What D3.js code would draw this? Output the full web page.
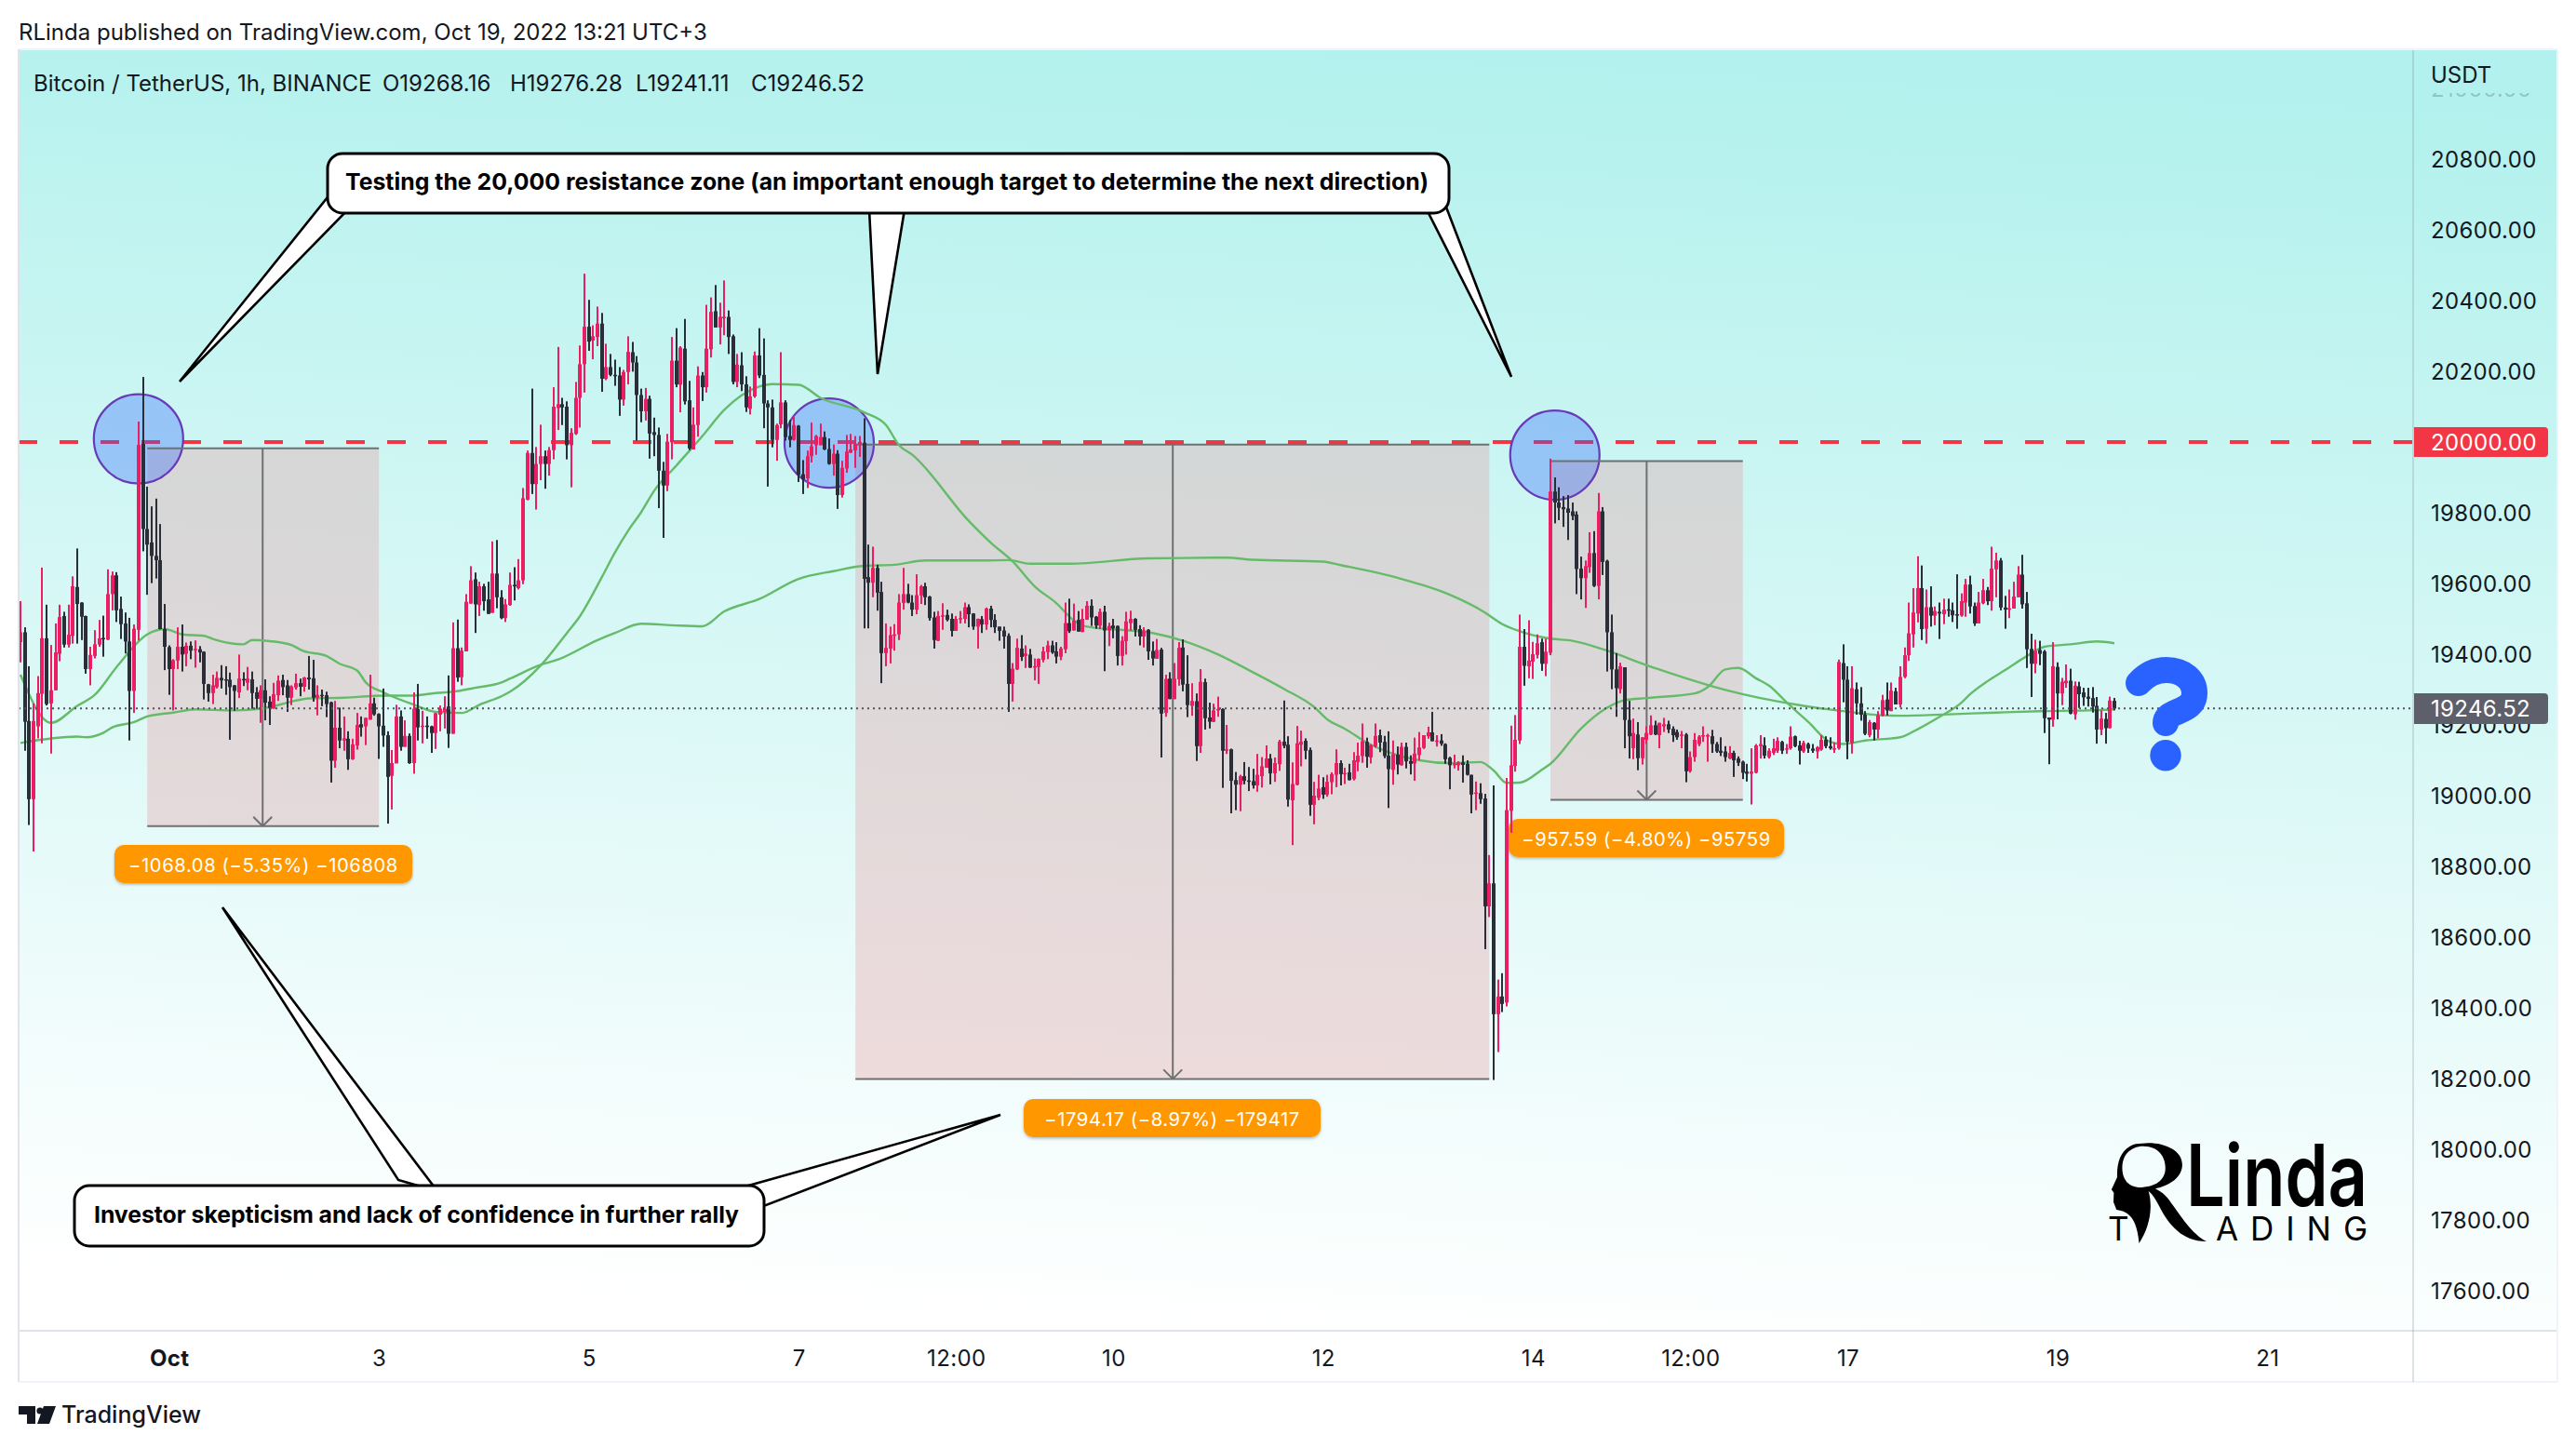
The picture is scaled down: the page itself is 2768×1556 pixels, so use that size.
<!DOCTYPE html>
<html><head><meta charset="utf-8">
<script src="https://cdn.jsdelivr.net/npm/d3@7/dist/d3.min.js"></script>
<style>html,body{margin:0;background:#fff}svg{display:block}text{font-family:Inter,"Open Sans",sans-serif}</style>
</head><body><svg id="c" width="2768" height="1556"></svg>
<script>
// open, high, low, close (USDT) of each hourly candle, one small list per stretch of the chart
const candlesSep30=[[19434,19550,19377,19462],[19462,19476,19127,19209],[19211,19366,18917,18990],[18990,19261,18842,19211],[19196,19338,19162,19290],[19288,19645,19148,19445],[19445,19540,19255,19259],[19261,19426,19119,19298],[19298,19487,19298,19405],[19401,19540,19380,19505],[19508,19520,19419,19427],[19427,19540,19419,19455],[19452,19620,19430,19592],[19590,19699,19430,19542],[19546,19547,19440,19506],[19508,19509,19345,19358],[19358,19421,19312,19398],[19395,19468,19388,19428],[19427,19497,19421,19445],[19446,19509,19393,19443],[19441,19640,19440,19570],[19570,19634,19524,19623],[19623,19632,19491,19524],[19528,19563,19443,19485],[19487,19518,19402,19436],[19436,19503,19156,19296],[19296,19484,19234,19472],[19469,20058,19439,19992],[19995,20184,19691,19754],[19754,19874,19568,19710],[19716,19818,19601,19678],[19678,19840,19614,19666],[19666,19768,19470,19471],[19471,19542,19355,19421],[19420,19425,19285,19358],[19358,19386,19241,19383],[19382,19476,19358,19421],[19421,19484,19351,19399],[19401,19433,19366,19424],[19424,19436,19386,19410],[19412,19439,19362,19415],[19414,19423,19377,19405],[19407,19408,19272,19316],[19315,19316,19266,19290],[19290,19342,19259,19312],[19307,19351,19303,19333],[19333,19369,19303,19326],[19329,19366,19285,19326]];
const candlesOct2=[[19328,19348,19158,19307],[19312,19313,19240,19296],[19292,19399,19276,19331],[19330,19349,19310,19327],[19319,19364,19298,19331],[19329,19351,19246,19290],[19292,19307,19246,19274],[19274,19312,19206,19298],[19298,19329,19213,19263],[19266,19281,19200,19248],[19246,19319,19246,19287],[19284,19340,19268,19325],[19327,19342,19284,19307],[19312,19327,19237,19277],[19277,19312,19256,19309],[19306,19345,19300,19318],[19318,19331,19281,19308],[19308,19336,19294,19334],[19334,19395,19300,19329],[19332,19384,19266,19277],[19277,19312,19227,19285],[19285,19300,19253,19283],[19284,19294,19222,19259],[19264,19266,19037,19099],[19099,19268,19079,19192],[19192,19249,19134,19156],[19156,19224,19127,19162],[19161,19182,19073,19103],[19103,19161,19101,19145],[19142,19234,19130,19200],[19202,19224,19167,19193],[19196,19221,19143,19220],[19215,19342,19215,19261],[19261,19277,19226,19230],[19231,19233,19104,19196],[19198,19303,19138,19170],[19171,19182,18921,19053],[19056,19129,18961,19092],[19091,19257,19092,19224],[19224,19241,19127,19138],[19138,19213,19138,19169],[19169,19176,19090,19092],[19092,19292,19062,19246],[19245,19316,19156,19193],[19195,19240,19148,19198],[19198,19224,19161,19194],[19196,19198,19121,19177],[19177,19234,19132,19233]];
const candlesOct4=[[19229,19255,19182,19246],[19237,19281,19190,19245],[19252,19340,19135,19175],[19175,19490,19175,19417],[19417,19498,19322,19334],[19335,19419,19312,19410],[19408,19570,19408,19548],[19543,19649,19543,19609],[19612,19631,19460,19541],[19539,19605,19508,19592],[19592,19599,19523,19550],[19555,19605,19514,19514],[19517,19719,19517,19628],[19628,19723,19530,19561],[19561,19581,19499,19502],[19502,19556,19491,19541],[19539,19631,19537,19596],[19596,19646,19552,19592],[19587,19669,19583,19609],[19609,19870,19598,19841],[19837,19976,19835,19969],[19969,20151,19853,19881],[19881,19986,19809,19938],[19938,20049,19892,19960],[19960,19976,19868,19938],[19938,19986,19905,19977],[19977,20155,19951,20100],[20096,20269,20034,20107],[20107,20125,20048,20098],[20100,20115,19951,19991],[19991,20039,19872,20026],[20023,20170,20020,20125],[20125,20273,20041,20220],[20220,20476,20140,20326],[20326,20402,20258,20284],[20287,20330,20234,20299],[20297,20383,20271,20335],[20335,20365,20142,20179],[20179,20278,20175,20212],[20212,20249,20186,20190],[20190,20233,20159,20186],[20188,20212,20074,20120],[20120,20204,20103,20198],[20198,20299,20163,20255],[20254,20283,20199,20225],[20225,20243,20004,20133],[20133,20151,20056,20087],[20087,20153,20061,20122]];
const candlesOct6=[[20122,20131,19953,20024],[20028,20069,19960,20020],[20020,20041,19813,19919],[19919,19944,19729,19877],[19877,20023,19861,20001],[19999,20297,19951,20230],[20230,20322,20155,20163],[20162,20271,20084,20267],[20264,20348,20106,20115],[20118,20173,19977,19982],[19979,20098,19979,20049],[20048,20214,20015,20188],[20188,20198,20116,20155],[20155,20388,20140,20264],[20262,20409,20239,20368],[20370,20444,20324,20324],[20324,20394,20276,20354],[20352,20457,20302,20354],[20354,20372,20249,20297],[20299,20304,20163,20170],[20170,20249,20155,20219],[20217,20254,20144,20163],[20163,20186,20085,20098],[20094,20157,20078,20129],[20129,20256,20125,20245],[20245,20322,20181,20188],[20190,20293,20039,20109],[20109,20118,19874,20098],[20098,20120,19985,20006],[20006,20052,19947,20048],[20050,20254,20039,20112],[20112,20118,20004,20014],[20017,20062,19985,20006],[20006,20071,20004,20048],[20046,20048,19887,19907],[19909,19949,19853,19894],[19897,19976,19870,19960],[19960,20055,19942,19988],[19991,20020,19964,20017],[19991,20052,19991,20014],[20014,20030,19977,19979],[19980,20010,19936,19938],[19938,19993,19905,19967],[19967,19977,19811,19850],[19850,19947,19843,19927],[19925,20020,19913,19973],[19970,20023,19969,19979],[19976,20017,19927,19995]];
const candlesOct8=[[19993,20017,19958,20000],[19998,20067,19473,19613],[19618,19710,19473,19602],[19602,19704,19561,19644],[19644,19653,19523,19574],[19576,19605,19318,19403],[19403,19487,19366,19418],[19416,19478,19374,19454],[19453,19485,19410,19456],[19456,19570,19440,19546],[19545,19644,19526,19570],[19570,19599,19544,19546],[19546,19567,19508,19526],[19526,19626,19513,19567],[19566,19596,19542,19592],[19592,19602,19539,19561],[19563,19565,19495,19502],[19504,19520,19416,19440],[19438,19522,19437,19508],[19508,19544,19469,19510],[19511,19526,19493,19497],[19500,19515,19450,19466],[19466,19508,19466,19500],[19498,19522,19487,19502],[19500,19546,19487,19533],[19533,19541,19476,19513],[19515,19516,19469,19478],[19478,19501,19416,19500],[19499,19508,19460,19484],[19484,19532,19469,19529],[19529,19537,19476,19497],[19497,19513,19460,19476],[19478,19478,19438,19466],[19467,19478,19416,19450],[19452,19459,19237,19316],[19316,19375,19266,19359],[19357,19444,19355,19418],[19416,19454,19381,19392],[19395,19425,19361,19402],[19399,19415,19361,19362],[19362,19388,19326,19366],[19364,19388,19316,19387],[19384,19421,19377,19408],[19406,19438,19386,19425],[19425,19438,19401,19405],[19408,19434,19374,19393],[19393,19421,19383,19416],[19414,19546,19403,19488]];
const candlesOct10=[[19488,19557,19460,19465],[19467,19543,19467,19495],[19497,19522,19464,19464],[19463,19528,19462,19500],[19498,19550,19497,19537],[19537,19555,19480,19504],[19506,19508,19472,19481],[19481,19529,19471,19520],[19520,19537,19352,19467],[19467,19489,19423,19480],[19481,19500,19445,19473],[19480,19481,19368,19395],[19395,19451,19368,19438],[19437,19520,19399,19493],[19488,19523,19467,19500],[19500,19502,19450,19469],[19471,19482,19425,19450],[19450,19476,19419,19467],[19469,19471,19384,19408],[19409,19436,19368,19388],[19387,19443,19387,19412],[19413,19418,19108,19232],[19234,19342,19223,19330],[19331,19349,19273,19273],[19273,19375,19273,19331],[19329,19434,19311,19418],[19419,19442,19295,19314],[19316,19397,19222,19256],[19254,19318,19226,19268],[19267,19289,19098,19140],[19140,19358,19121,19322],[19321,19331,19187,19219],[19221,19263,19190,19209],[19209,19260,19208,19241],[19241,19280,19223,19245],[19245,19247,19022,19127],[19127,19200,19118,19131],[19131,19133,18950,19042],[19044,19067,18959,19031],[19031,19059,18956,19055],[19055,19095,19032,19042],[19043,19081,19013,19041],[19041,19076,19020,19029],[19029,19118,19011,19059],[19055,19109,19023,19083],[19079,19142,19079,19105],[19105,19118,19032,19063],[19063,19108,19039,19092]];
const candlesOct12=[[19089,19158,19070,19153],[19153,19269,19134,19141],[19144,19168,18969,18989],[18987,19094,18860,19033],[19031,19197,19029,19148],[19144,19184,19083,19153],[19155,19162,19103,19127],[19129,19136,18943,18974],[18974,19039,18919,19000],[18994,19059,18987,19020],[19024,19052,18991,19003],[19003,19059,18997,19039],[19038,19066,19004,19061],[19059,19131,19024,19092],[19092,19100,19029,19061],[19060,19079,19033,19064],[19066,19090,19043,19044],[19047,19123,19043,19100],[19095,19150,19069,19113],[19112,19204,19093,19154],[19152,19164,19079,19110],[19108,19145,19091,19143],[19140,19204,19136,19169],[19171,19187,19123,19150],[19152,19169,19106,19112],[19113,19182,18965,19075],[19073,19156,19031,19117],[19116,19139,19060,19088],[19086,19150,19085,19138],[19138,19150,19077,19097],[19098,19114,19060,19090],[19091,19164,19042,19119],[19115,19180,19100,19136],[19135,19171,19132,19171],[19168,19195,19161,19179],[19179,19237,19154,19154],[19152,19171,19139,19156],[19156,19174,19141,19147],[19146,19148,19090,19103],[19107,19110,19018,19086],[19086,19116,19077,19090],[19086,19097,19071,19094],[19094,19114,19037,19087],[19090,19100,19057,19059],[19059,19059,18950,19003],[19005,19040,18959,19009],[19007,19035,18977,18990],[18992,19005,18566,18687]];
const candlesOct13=[[18687,18832,18657,18752],[18752,19029,18196,18382],[18382,18480,18275,18432],[18432,18498,18388,18411],[18415,19050,18404,18959],[18957,19198,18895,19086],[19084,19228,19068,19158],[19156,19512,19146,19421],[19421,19471,19311,19367],[19366,19496,19332,19382],[19379,19435,19330,19400],[19398,19456,19388,19431],[19434,19444,19353,19373],[19373,19444,19338,19407],[19404,19953,19397,19860],[19860,19900,19770,19829],[19829,19872,19779,19814],[19816,19847,19760,19810],[19812,19850,19723,19800],[19804,19829,19779,19791],[19795,19804,19570,19641],[19642,19676,19555,19615],[19615,19665,19531,19649],[19646,19745,19630,19686],[19686,19748,19590,19593],[19593,19856,19555,19804],[19804,19816,19624,19661],[19664,19667,19351,19462],[19462,19512,19301,19357],[19357,19403,19223,19304],[19301,19376,19289,19366],[19363,19363,19134,19214],[19214,19268,19105,19168],[19134,19218,19103,19177],[19173,19208,19072,19106],[19106,19165,19088,19165],[19158,19196,19146,19177],[19173,19227,19171,19199],[19199,19212,19171,19173],[19171,19206,19134,19206],[19196,19220,19180,19202],[19202,19212,19177,19187],[19189,19196,19152,19171],[19180,19187,19158,19165],[19170,19183,19134,19173],[19173,19177,19038,19069],[19069,19125,19065,19109],[19109,19177,19096,19158]];
const candlesOct16=[[19146,19171,19140,19167],[19167,19196,19152,19171],[19167,19175,19096,19171],[19168,19186,19121,19146],[19146,19152,19121,19125],[19127,19165,19112,19121],[19125,19140,19096,19109],[19105,19140,19103,19121],[19121,19127,19053,19100],[19105,19111,19084,19093],[19096,19099,19047,19065],[19068,19090,19040,19062],[19062,19134,18975,19068],[19065,19146,19063,19142],[19140,19171,19105,19146],[19142,19165,19105,19113],[19109,19134,19105,19127],[19121,19161,19115,19134],[19127,19165,19121,19155],[19152,19155,19118,19127],[19130,19146,19118,19134],[19134,19196,19130,19167],[19168,19170,19137,19140],[19142,19155,19088,19127],[19125,19155,19121,19149],[19146,19150,19121,19133],[19133,19146,19121,19127],[19125,19140,19105,19137],[19130,19171,19127,19158],[19158,19168,19134,19140],[19140,19165,19130,19134],[19130,19150,19121,19134],[19134,19385,19130,19378],[19375,19428,19264,19328],[19328,19366,19103,19152],[19149,19366,19119,19304],[19301,19320,19229,19261],[19261,19307,19212,19229],[19229,19239,19171,19175],[19171,19214,19165,19208],[19206,19208,19156,19187],[19187,19239,19162,19227],[19227,19285,19224,19270],[19272,19320,19227,19241],[19239,19320,19239,19297],[19295,19305,19258,19258],[19258,19366,19249,19336],[19336,19419,19332,19397]];
const candlesOct18=[[19397,19546,19381,19459],[19456,19587,19419,19518],[19515,19677,19490,19587],[19587,19651,19440,19471],[19472,19583,19430,19533],[19533,19592,19478,19509],[19509,19535,19482,19522],[19520,19546,19443,19515],[19513,19557,19485,19526],[19527,19557,19506,19524],[19524,19546,19491,19510],[19513,19626,19472,19511],[19509,19572,19506,19550],[19546,19613,19506,19597],[19597,19622,19515,19535],[19536,19546,19480,19487],[19487,19576,19487,19546],[19544,19613,19541,19581],[19581,19590,19539,19550],[19550,19704,19523,19642],[19640,19687,19561,19665],[19665,19672,19524,19532],[19532,19565,19472,19526],[19526,19583,19502,19530],[19529,19605,19529,19563],[19561,19649,19561,19625],[19625,19681,19529,19541],[19544,19576,19361,19414],[19415,19458,19279,19373],[19373,19441,19346,19409],[19412,19438,19369,19401],[19408,19412,19177,19219],[19221,19221,19089,19215],[19215,19434,19195,19366],[19364,19377,19216,19289],[19289,19333,19256,19322],[19318,19371,19305,19325],[19325,19359,19230,19232],[19230,19323,19215,19311],[19309,19322,19248,19287],[19292,19305,19254,19278],[19280,19305,19252,19274],[19276,19307,19235,19252],[19254,19279,19147,19187],[19187,19241,19171,19218],[19217,19234,19147,19191],[19191,19280,19190,19269],[19268.16,19276.28,19241.11,19246.52]];
// moving averages read as candle number / price anchors
const maFastAt=[0,7,13,17,22,29,33,37,42,44,51,53,57,62,64.5,70,73,77,79,83,90,95,101,105,110,112,119,125,128,133,136,139,142,145,150,156,161,169,172,178,183,193,198,201,204,217,222,227,232,237,241,244,259,266,274,281,289,296,299,303,308,313,320,327,334,337,340,343,348,350,357,363,367,372,383,386,390,393,397,400,404,409,414,417,422,430,434,439,444,446,450,454,459,463,469,475,479];
const maFastVal=[19342,19206,19254,19285,19364,19456,19471,19456,19452,19443,19428,19440,19437,19426,19410,19395,19373,19354,19320,19292,19257,19237,19234,19257,19281,19294,19368,19460,19508,19618,19688,19749,19802,19863,19933,20017,20091,20157,20164,20162,20125,20084,20048,19991,19964,19776,19715,19662,19592,19544,19495,19478,19460,19438,19399,19355,19302,19250,19215,19189,19150,19123,19100,19092,19095,19071,19036,19037,19073,19090,19190,19249,19270,19276,19289,19307,19357,19361,19332,19311,19264,19208,19152,19146,19156,19165,19188,19223,19263,19287,19324,19355,19395,19421,19428,19436,19431];
const maSlowAt=[0,13,15,19,21,26,29,35,40,49,55,57,62,66,74,83,89,95,99,104,110,112,119,123,132,136,142,149,156,161,169,178,186,193,200,207,220,226,231,240,258,276,282,298,302,315,327,335,339,343,350,355,363,372,381,390,398,406,413,417,423,430,441,452,462,473,479];
const maSlowVal=[19149,19167,19165,19178,19193,19208,19224,19235,19244,19241,19246,19250,19266,19275,19277,19283,19283,19290,19294,19305,19320,19331,19370,19385,19440,19460,19486,19482,19479,19521,19556,19613,19635,19650,19653,19665,19665,19666,19656,19656,19671,19673,19667,19662,19652,19616,19568,19518,19485,19465,19444,19438,19410,19369,19332,19299,19276,19258,19245,19239,19230,19226,19230,19235,19239,19241,19244];
// axes
const priceTicks=[21000,20800,20600,20400,20200,20000,19800,19600,19400,19200,19000,18800,18600,18400,18200,18000,17800,17600];
const timeTickAt=[34,82,130,178,214,250,298,346,382,418,466,514];
const timeTickLabels=["Oct","3","5","7","12:00","10","12","14","12:00","17","19","21"];
// levels and measured ranges
const resistance=20000, lastPrice=19246.52;
const rangeFrom=[29,191,350], rangeTo=[82,336,394], rangeTop=[19982,19993,19946], rangeBottom=[18914,18199,18988], rangeMid=[55.4,263.6,372];
const rangeLabels=["\u22121068.08 (\u22125.35%) \u2212106808","\u22121794.17 (\u22128.97%) \u2212179417","\u2212957.59 (\u22124.80%) \u221295759"];
const circleAt=[27,185,351], circlePrice=[20009,19997,19963];

const candles=[].concat(candlesSep30,candlesOct2,candlesOct4,candlesOct6,candlesOct8,candlesOct10,candlesOct12,candlesOct13,candlesOct16,candlesOct18);
const X=d3.scaleLinear().domain([0,479]).range([22,2272]);
const Y=d3.scaleLinear().domain([20000,17600]).range([475,1387]);
const svg=d3.select("#c");
const defs=svg.append("defs");
const g=defs.append("linearGradient").attr("id","bg").attr("gradientUnits","userSpaceOnUse").attr("x1",1450).attr("y1",54).attr("x2",1380).attr("y2",1430);
g.append("stop").attr("offset",0).attr("stop-color","#B2F1ED");
g.append("stop").attr("offset",1).attr("stop-color","#FFFFFF");
const sh=defs.append("filter").attr("id","sh").attr("x","-5%").attr("y","-10%").attr("width","110%").attr("height","130%");
sh.append("feDropShadow").attr("dx",0).attr("dy",1.5).attr("stdDeviation",1.5).attr("flood-color","#000").attr("flood-opacity",.28);

svg.append("rect").attr("x",20).attr("y",54).attr("width",2728).attr("height",1376).attr("fill","url(#bg)");

// range boxes
const RC="#6E7072";
rangeFrom.forEach((f,i)=>{
  const x0=X(f),x1=X(rangeTo[i]),t=Y(rangeTop[i]),b=Y(rangeBottom[i]);
  svg.append("rect").attr("x",x0).attr("y",t).attr("width",x1-x0).attr("height",b-t).attr("fill","rgba(232,142,150,.3)");
});
// resistance line and circles
svg.append("line").attr("x1",20).attr("x2",2592).attr("y1",Y(resistance)).attr("y2",Y(resistance)).attr("stroke","#F23645").attr("stroke-width",4).attr("stroke-dasharray","20 24");
circleAt.forEach((c,i)=>svg.append("circle").attr("cx",X(c)).attr("cy",Y(circlePrice[i])).attr("r",48).attr("fill","rgba(41,98,255,.33)").attr("stroke","#673AB7").attr("stroke-width",2.2));
rangeFrom.forEach((f,i)=>{
  const x0=X(f),x1=X(rangeTo[i]),t=Y(rangeTop[i]),b=Y(rangeBottom[i]),m=X(rangeMid[i]);
  const ln=(a,b2,c,d)=>svg.append("line").attr("x1",a).attr("y1",b2).attr("x2",c).attr("y2",d).attr("stroke",RC).attr("stroke-width",2);
  ln(x0,t,x1,t);ln(x0,b,x1,b);ln(m,t,m,b);ln(m-10,b-10,m,b);ln(m+10,b-10,m,b);
});
// orange labels
const labelX=[283,1259.5,1769], labelY=[908,1181,880], labelW=[320,319,296];
rangeLabels.forEach((t,i)=>{
  svg.append("rect").attr("x",labelX[i]-labelW[i]/2).attr("y",labelY[i]).attr("width",labelW[i]).attr("height",41).attr("rx",10).attr("fill","#FF9800").attr("filter","url(#sh)");
  svg.append("text").attr("x",labelX[i]).attr("y",labelY[i]+29).attr("text-anchor","middle").attr("font-size",20.2).attr("fill","#fff").attr("letter-spacing",.6).text(t);
});
// moving averages
const curve=d3.line().x(d=>X(d[0])).y(d=>Y(d[1])).curve(d3.curveMonotoneX);
[[maFastAt,maFastVal],[maSlowAt,maSlowVal]].forEach(([a,v])=>svg.append("path").attr("d",curve(a.map((t,i)=>[t,v[i]]))).attr("fill","none").attr("stroke","#66BB6A").attr("stroke-width",2.4));
// candles
const cg=svg.append("g").selectAll("g").data(candles).join("g").attr("fill",d=>d[3]>=d[0]?"#E91E63":"#2A2E39");
cg.append("rect").attr("x",(d,i)=>Math.round(X(i))-1).attr("width",2).attr("y",d=>Y(d[1])).attr("height",d=>Math.max(1,Y(d[2])-Y(d[1])));
cg.append("rect").attr("x",(d,i)=>Math.round(X(i))-2).attr("width",4).attr("y",d=>Y(Math.max(d[0],d[3]))).attr("height",d=>Math.max(1.5,Math.abs(Y(d[0])-Y(d[3]))));
// last price dotted
svg.append("line").attr("x1",20).attr("x2",2592).attr("y1",Y(lastPrice)).attr("y2",Y(lastPrice)).attr("stroke","#50535E").attr("stroke-width",2).attr("stroke-dasharray","2 4");

// axes
const yAxis=d3.axisRight(Y).tickValues(priceTicks.slice(1)).tickFormat(d3.format(".2f")).tickSize(0).tickPadding(0);
const ya=svg.append("g").attr("transform","translate(2612,1)").call(yAxis);
const xAxis=d3.axisBottom(X).tickValues(timeTickAt).tickFormat((d,i)=>timeTickLabels[i]).tickSize(0).tickPadding(0);
const xa=svg.append("g").attr("transform","translate(0,1451)").call(xAxis);
[ya,xa].forEach(a=>{a.select(".domain").remove();a.selectAll("text").attr("font-family","Inter").attr("font-size",24).attr("fill","#131722").attr("letter-spacing",.35)});
xa.selectAll("text").filter((d,i)=>i===0).attr("font-weight",700);
// clipped top price tick
defs.append("clipPath").attr("id","topclip").append("rect").attr("x",2600).attr("y",100).attr("width",140).attr("height",8);
svg.append("text").attr("x",2612).attr("y",Y(priceTicks[0])+9).attr("font-size",24).attr("fill","#131722").attr("opacity",.2).attr("letter-spacing",.35).attr("clip-path","url(#topclip)").text(d3.format(".2f")(priceTicks[0]));
// frame
const bl=(a,b,c,d,col)=>svg.append("line").attr("x1",a).attr("y1",b).attr("x2",c).attr("y2",d).attr("stroke",col).attr("stroke-width",2);
bl(20,1430,2748,1430,"#E0E3EB");bl(20,1485,2748,1485,"#F0F3FA");bl(20,53,2748,53,"#F0F3FA");bl(20,53,20,1485,"#E0E3EB");bl(2748,53,2748,1485,"#F0F3FA");
svg.append("line").attr("x1",2593).attr("y1",54).attr("x2",2593).attr("y2",1485).attr("stroke","rgba(120,140,150,.25)").attr("stroke-width",2);
// price badges
svg.append("path").attr("d","M2594,459H2734a4,4 0 0 1 4,4V487a4,4 0 0 1 -4,4H2594Z").attr("fill","#F23645");
svg.append("text").attr("x",2612).attr("y",Y(resistance)+9).attr("font-size",24).attr("fill","#fff").attr("letter-spacing",.35).text(d3.format(".2f")(resistance));
svg.append("path").attr("d","M2594,745H2734a4,4 0 0 1 4,4V774a4,4 0 0 1 -4,4H2594Z").attr("fill","#5D606B");
svg.append("text").attr("x",2612).attr("y",Y(lastPrice)+9).attr("font-size",24).attr("fill","#fff").attr("letter-spacing",.35).text(d3.format(".2f")(lastPrice));
svg.append("text").attr("x",2612).attr("y",89).attr("font-size",24).attr("fill","#131722").text("USDT");
// header / legend / footer
svg.append("text").attr("x",20).attr("y",43).attr("font-size",24).attr("fill","#131722").text("RLinda published on TradingView.com, Oct 19, 2022 13:21 UTC+3");
svg.append("text").attr("x",36).attr("y",98).attr("font-size",24).attr("fill","#131722").text("Bitcoin / TetherUS, 1h, BINANCE");
svg.append("text").attr("x",411).attr("y",98).attr("font-size",24).attr("fill","#131722").text("O19268.16");
svg.append("text").attr("x",548).attr("y",98).attr("font-size",24).attr("fill","#131722").text("H19276.28");
svg.append("text").attr("x",683).attr("y",98).attr("font-size",24).attr("fill","#131722").text("L19241.11");
svg.append("text").attr("x",807).attr("y",98).attr("font-size",24).attr("fill","#131722").text("C19246.52");
svg.append("path").attr("d","M20,1511H38V1530H29V1520H20Z M40,1530L47,1511H60L53,1530Z").attr("fill","#131722");
svg.append("circle").attr("cx",43).attr("cy",1516).attr("r",3.6).attr("fill","#131722");
svg.append("text").attr("x",66).attr("y",1529).attr("font-size",25).attr("font-weight",500).attr("fill","#131722").text("TradingView");

// callouts
const tail=p=>svg.append("polygon").attr("points",p).attr("fill","#fff").attr("stroke","#000").attr("stroke-width",2.6).attr("stroke-linejoin","miter");
tail("193,410 360,202 378,221");tail("934,225 943,402 972,225");tail("1624,405 1533,225 1553,220");
tail("239,975 428,1268 470,1280");tail("1075,1198 790,1278 805,1302");
const box=(x,y,w,h,t,tx,len)=>{
  svg.append("rect").attr("x",x).attr("y",y).attr("width",w).attr("height",h).attr("rx",16).attr("fill","#fff").attr("stroke","#000").attr("stroke-width",3);
  svg.append("text").attr("x",tx).attr("y",y+h/2+7).attr("font-size",24.8).attr("font-weight",700).attr("fill","#000").attr("textLength",len).text(t);
};
box(352,165,1205,64,"Testing the 20,000 resistance zone (an important enough target to determine the next direction)",371,1164);
box(80,1274,741,65,"Investor skepticism and lack of confidence in further rally",101,693);

// question mark
svg.append("path").attr("d","M2298,734 C2307,724 2317,720 2328,720 C2346,720 2358,731 2358,745 C2358,767 2327,762 2327,777").attr("fill","none").attr("stroke","#2962FF").attr("stroke-width",28).attr("stroke-linecap","round").attr("stroke-linejoin","round");
svg.append("circle").attr("cx",2327).attr("cy",811.7).attr("r",16.7).attr("fill","#2962FF");

// logo
const lg=svg.append("g").attr("transform","translate(2200,1180) scale(.3623,.3333)");
lg.append("path").attr("fill-rule","evenodd").attr("fill","#000").attr("d","M262,148 C222,160 205,200 207,255 L190,295 L197,305 L196,335 L205,360 C240,365 265,385 272,468 C300,420 315,360 300,300 C312,310 320,325 330,345 C360,410 400,462 472,462 C430,440 395,380 362,330 C345,305 330,298 320,292 C370,280 400,250 400,215 C400,170 350,145 300,145 Z M285,155 C330,155 350,190 350,225 C350,265 320,288 270,288 C235,285 222,255 222,225 C222,185 245,155 285,155 Z");
svg.append("text").attr("x",2349).attr("y",1296).attr("font-family","Open Sans").attr("font-size",92).attr("font-weight",600).attr("fill","#000").attr("textLength",195).attr("lengthAdjust","spacingAndGlyphs").text("Linda");
svg.append("text").attr("x",2265).attr("y",1333).attr("font-family","Open Sans").attr("font-size",35).attr("fill","#000").text("T");
svg.append("text").attr("x",2381).attr("y",1333).attr("font-family","Open Sans").attr("font-size",35).attr("fill","#000").attr("textLength",163).text("ADING");
</script></body></html>
